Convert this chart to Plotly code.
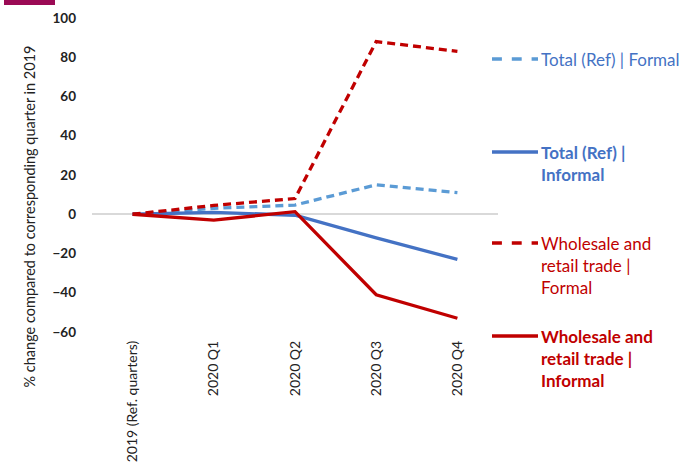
import plotly.graph_objects as go

quarters = ["2019 (Ref. quarters)", "2020 Q1", "2020 Q2", "2020 Q3", "2020 Q4"]

total_formal = [0, 3, 4.7, 15, 11]
total_informal = [0, 1, -0.5, -12, -23]
wrt_formal = [0, 4.5, 8, 88, 83]
wrt_informal = [0, -3, 1.3, -41, -53]

series_names = [
    "Total (Ref) | Formal",
    "Total (Ref) | Informal",
    "Wholesale and retail trade | Formal",
    "Wholesale and retail trade | Informal",
]

LIGHT_BLUE = "#5B9BD5"
BLUE = "#4472C4"
RED = "#C00000"
FONT = "Lato, 'Open Sans', sans-serif"

fig = go.Figure()

traces = [
    (total_formal, LIGHT_BLUE, "8px,5px"),
    (total_informal, BLUE, "solid"),
    (wrt_formal, RED, "8px,5px"),
    (wrt_informal, RED, "solid"),
]
for (vals, color, dash), name in zip(traces, series_names):
    fig.add_trace(go.Scatter(
        x=quarters, y=vals, name=name, mode="lines",
        line=dict(color=color, width=3.3, dash=dash),
        showlegend=False,
    ))

# plot area in pixels: x 92..498, y 18..332
def px_x(x):
    return (x - 92) / 406

def px_y(y):
    return 1 - (y - 18) / 314

# hand-made legend on the right
legend_items = [
    (59, LIGHT_BLUE, BLUE, "dash", "Total (Ref) | Formal", False),
    (152, BLUE, BLUE, "solid", "Total (Ref) |<br>Informal", True),
    (243, RED, RED, "dash", "Wholesale and<br>retail trade |<br>Formal", False),
    (336, RED, RED, "solid", "Wholesale and<br>retail trade |<br>Informal", True),
]
for ypx, lc, tc, dash, label, bold in legend_items:
    fig.add_shape(type="line", xref="paper", yref="paper",
                  x0=px_x(492), x1=px_x(538), y0=px_y(ypx), y1=px_y(ypx),
                  line=dict(color=lc, width=3.3, dash=dash))
    fig.add_annotation(xref="paper", yref="paper",
                       x=px_x(539), y=px_y(ypx - 12),
                       xanchor="left", yanchor="top", align="left",
                       showarrow=False,
                       text=f"<b>{label}</b>" if bold else label,
                       font=dict(family=FONT, size=17, color=tc))

# y axis title (centred lower than the plot, as in the original)
fig.add_annotation(xref="paper", yref="paper", x=px_x(18), y=px_y(217),
                   textangle=-90, showarrow=False,
                   text="% change compared to corresponding quarter in 2019",
                   font=dict(family=FONT, size=14.5, color="#222222"))

# maroon tab at the top left
fig.add_shape(type="rect", xref="paper", yref="paper",
              x0=px_x(4), x1=px_x(55), y0=px_y(5), y1=px_y(-2),
              fillcolor="#9B0A55", line_width=0)

fig.update_layout(
    width=687, height=464,
    margin=dict(l=92, r=189, t=18, b=132, autoexpand=False),
    paper_bgcolor="white", plot_bgcolor="white",
    font=dict(family=FONT, size=13, color="#222222"),
    xaxis=dict(
        tickangle=-90, showgrid=False, showline=False, zeroline=False,
        tickfont=dict(size=14, color="#222222"), ticks="",
        range=[-0.5, 4.5], automargin=False, ticklabelstandoff=5,
    ),
    yaxis=dict(
        range=[-60, 100], dtick=20, showgrid=False, showline=False,
        zeroline=True, zerolinecolor="#D9D9D9", zerolinewidth=1.5,
        tickfont=dict(size=13.5, color="#222222", weight="bold"),
        ticklabelstandoff=15, automargin=False,
    ),
)

fig.write_html("out.html", config={"displayModeBar": False},
               post_script="document.body.style.margin='0';")
